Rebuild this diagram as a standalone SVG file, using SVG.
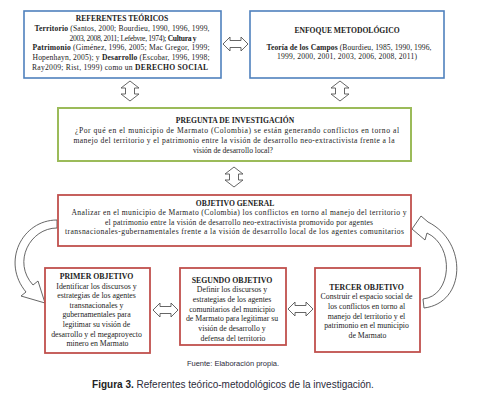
<svg xmlns="http://www.w3.org/2000/svg" width="479" height="420" viewBox="0 0 479 420">
<defs>
<style>
.t{font-family:"Liberation Serif","Times New Roman",serif;font-size:7.6px;fill:#222;text-anchor:middle}
.s{font-size:7.8px}
.b{font-weight:bold}
.blue{fill:#fff;stroke:#4f81bd;stroke-width:1.6}
.green{fill:#fff;stroke:#9bbb59;stroke-width:2}
.red{fill:#fff;stroke:#c0504d;stroke-width:1.8}
.arr{fill:#fff;stroke:#555;stroke-width:0.9;stroke-linejoin:miter}
.cap{font-family:"Liberation Sans",Arial,sans-serif;text-anchor:middle;fill:#2b2b3b}
</style>
<path id="hdbl" d="M0,7 L7,0 L7,3.5 L18,3.5 L18,0 L25,7 L18,14 L18,10.5 L7,10.5 L7,14 Z"/>
<path id="vdbl" d="M9,0 L18,7 L13.5,7 L13.5,13 L18,13 L9,20 L0,13 L4.5,13 L4.5,7 L0,7 Z"/>
</defs>
<rect width="479" height="420" fill="#fff"/>

<g id="connectors">
<use href="#hdbl" class="arr" x="223" y="37"/>
<use href="#vdbl" class="arr" x="121" y="81"/>
<use href="#vdbl" class="arr" x="331" y="81"/>
<use href="#vdbl" class="arr" x="225" y="167"/>
<use href="#hdbl" class="arr" x="153" y="303"/>
<use href="#hdbl" class="arr" x="288" y="302"/>
<path class="arr" d="M57,220 C22,220 1,262 26,292 L21,296 L45,303 L38,281 L33,285 C12,262 30,228 57,228 Z"/>
<path class="arr" d="M424,308 C466,303 468,242 428,222 L421,216 L412,229 L425,240 L427,233 C455,246 452,296 423,299 Z"/>
</g>

<g id="referentes">
<rect class="blue" x="24" y="11" width="197" height="67"/>
<text class="t" y="20.5"><tspan class="b" x="122">REFERENTES TEÓRICOS</tspan></text>
<text class="t" x="122" y="31" textLength="175"><tspan class="b">Territorio</tspan> (Santos, 2000; Bourdieu, 1990, 1996, 1999,</text>
<text class="t" x="133" y="40.5" textLength="127">2003, 2008, 2011; Lefebvre, 1974); <tspan class="b">Cultura y</tspan></text>
<text class="t" x="121" y="50" textLength="177"><tspan class="b">Patrimonio</tspan> (Giménez, 1996, 2005;  Mac Gregor, 1999;</text>
<text class="t" x="121" y="60" textLength="177">Hopenhayn, 2005); y <tspan class="b">Desarrollo</tspan> (Escobar, 1996, 1998;</text>
<text class="t" x="120" y="70" textLength="176">Ray2009; Rist,  1999) como un <tspan class="b">DERECHO SOCIAL</tspan></text>
</g>

<g id="enfoque">
<rect class="blue" x="250" y="11" width="194" height="67"/>
<text class="t b" x="347" y="32.5">ENFOQUE METODOLÓGICO</text>
<text class="t" x="349" y="50" textLength="165"><tspan class="b">Teoría de los Campos</tspan> (Bourdieu, 1985, 1990, 1996,</text>
<text class="t" x="347" y="59" textLength="140">1999, 2000, 2001, 2003, 2006, 2008, 2011)</text>
</g>

<g id="pregunta">
<rect class="green" x="58" y="108" width="353" height="53"/>
<text class="t b" x="235" y="122.5">PREGUNTA DE INVESTIGACIÓN</text>
<text class="t" x="237" y="132.5" textLength="324">¿Por qué en el municipio de Marmato (Colombia) se están generando conflictos en torno al</text>
<text class="t" x="234" y="142.5" textLength="321">manejo del territorio y el patrimonio entre la visión de desarrollo neo-extractivista frente a la</text>
<text class="t" x="233" y="152.5">visión de desarrollo local?</text>
</g>

<g id="general">
<rect class="red" x="58" y="195" width="353" height="51"/>
<text class="t b" x="235" y="205.5">OBJETIVO GENERAL</text>
<text class="t" x="239" y="215" textLength="335">Analizar en el municipio de Marmato (Colombia) los conflictos en torno al manejo del territorio y</text>
<text class="t" x="239" y="224.5" textLength="268">el patrimonio entre la visión de desarrollo neo-extractivista promovido por agentes</text>
<text class="t" x="234.5" y="234" textLength="339">transnacionales-gubernamentales frente a la visión de desarrollo local de los agentes comunitarios</text>
</g>

<g id="primer">
<rect class="red" x="45" y="268" width="105" height="85"/>
<text class="t s" x="97.5" y="279"><tspan class="b">PRIMER OBJETIVO</tspan>
<tspan x="97.5" dy="9.6">Identificar los discursos y</tspan>
<tspan x="97.5" dy="9.6">estrategias de los agentes</tspan>
<tspan x="97.5" dy="9.6">transnacionales y</tspan>
<tspan x="97.5" dy="9.6">gubernamentales para</tspan>
<tspan x="97.5" dy="9.6">legitimar su visión de</tspan>
<tspan x="97.5" dy="9.6">desarrollo y el megaproyecto</tspan>
<tspan x="97.5" dy="9.6">minero en Marmato</tspan></text>
</g>

<g id="segundo">
<rect class="red" x="180" y="268" width="106" height="77"/>
<text class="t s" x="233" y="282.5"><tspan class="b">SEGUNDO OBJETIVO</tspan>
<tspan x="233" dy="9.7">Definir los discursos y</tspan>
<tspan x="233" dy="9.7">estrategias de los agentes</tspan>
<tspan x="233" dy="9.7">comunitarios del municipio</tspan>
<tspan x="233" dy="9.7">de Marmato para legitimar su</tspan>
<tspan x="233" dy="9.7">visión de desarrollo y</tspan>
<tspan x="233" dy="9.7">defensa del territorio</tspan></text>
</g>

<g id="tercer">
<rect class="red" x="315" y="268" width="105" height="84"/>
<text class="t s" x="367.5" y="289.5"><tspan class="b">TERCER OBJETIVO</tspan>
<tspan x="367.5" dy="9.7">Construir el espacio social de</tspan>
<tspan x="367.5" dy="9.7">los conflictos en torno al</tspan>
<tspan x="367.5" dy="9.7">manejo del territorio y el</tspan>
<tspan x="367.5" dy="9.7">patrimonio en el municipio</tspan>
<tspan x="367.5" dy="9.7">de Marmato</tspan></text>
</g>

<g id="caption">
<text class="cap" x="233" y="365.5" font-size="7.5">Fuente: Elaboración propia.</text>
<text class="cap" x="233" y="387.5" font-size="10"><tspan font-weight="bold" fill="#222">Figura 3.</tspan> Referentes teórico-metodológicos de la investigación.</text>
</g>
</svg>
